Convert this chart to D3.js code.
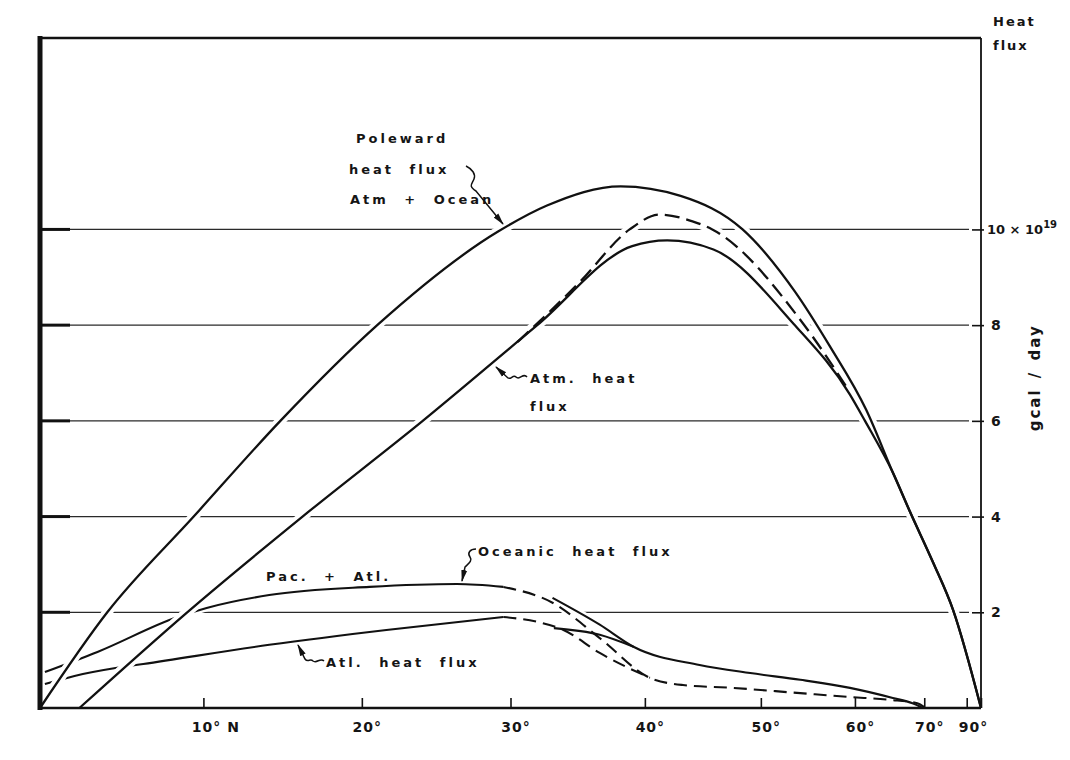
<!DOCTYPE html>
<html>
<head>
<meta charset="utf-8">
<script src="https://cdn.jsdelivr.net/npm/d3@7"></script>
<style>
  body { margin: 0; background: #fff; }
  text { font-family: "DejaVu Sans", sans-serif; font-weight: bold; fill: #151515; }
</style>
</head>
<body>
<svg id="chart" width="1070" height="760"></svg>
<script>
// latitude (deg N) and poleward heat flux (10^19 gcal/day)
const totalLat = [0, 4.1, 9.4, 14.8, 21, 29.1, 32.6, 38.1, 42.9, 48.3, 53.35, 57.1, 61.4, 65.0, 67.6, 71.6, 76.0, 90];
const totalFlux = [0, 2.0, 4.0, 6.0, 8.0, 9.95, 10.5, 10.9, 10.7, 10.0, 8.7, 7.55, 6.23, 4.92, 4.1, 3.05, 2.05, 0];

const atmLat = [2.4, 9.0, 16.2, 24.0, 31.9, 39.0, 41.8, 45.7, 53.2, 59.4, 61.25, 65.0, 67.6, 71.6, 76.0, 90];
const atmFlux = [0, 2.0, 4.0, 6.0, 8.0, 9.65, 9.77, 9.58, 8.03, 6.55, 6.0, 4.92, 4.1, 3.05, 2.05, 0];

const atmAltLat = [30.5, 35.0, 38.8, 41.2, 43.9, 45.6, 54.2, 59.2];
const atmAltFlux = [7.65, 8.9, 10.0, 10.31, 10.17, 10.0, 8.03, 6.65];

const pacAtlLat = [0.3, 3.5, 8.4, 10.2, 14.1, 20.5, 26.3, 29.5];
const pacAtlFlux = [0.75, 1.17, 1.9, 2.09, 2.36, 2.53, 2.59, 2.53];

const pacAtlDashLat = [29.5, 33.0, 36.5, 40.4, 43.1, 47.4, 53.9, 59.4, 64.6, 68.8, 70];
const pacAtlDashFlux = [2.53, 2.2, 1.46, 0.63, 0.48, 0.42, 0.31, 0.23, 0.17, 0.1, 0.02];

const atlLat = [0.3, 2.1, 4.7, 6.3, 14.1, 21.6, 29.5];
const atlFlux = [0.5, 0.67, 0.84, 0.92, 1.32, 1.63, 1.9];

const atlDashLat = [29.5, 31.9, 33.8, 36.5, 40.4];
const atlDashFlux = [1.9, 1.8, 1.63, 1.15, 0.63];

const pacAtlRevLat = [33.0, 36.5, 39.1, 44.5, 49.0, 53.9, 59.4, 65.0, 68.0, 69.8];
const pacAtlRevFlux = [2.3, 1.74, 1.28, 0.9, 0.73, 0.59, 0.42, 0.21, 0.1, 0.0];

const atlRevLat = [33.1, 36.5, 39.1];
const atlRevFlux = [1.67, 1.53, 1.28];

const xTickValues = [10, 20, 30, 40, 50, 60, 70, 80, 90];
const xTickLabels = ["10° N", "20°", "30°", "40°", "50°", "60°", "70°", "", "90°"];
const yTickValues = [2, 4, 6, 8, 10];
const gridValues = [2, 4, 6, 8, 10];

const svg = d3.select("#chart");
const pLeft = 40, pRight = 981, pTop = 38, pBottom = 708;

// area-weighted latitude axis: position goes with sin(lat)
const sx = d3.scaleLinear().domain([0, 1]).range([pLeft, pRight]);
const x = lat => sx(Math.sin(lat * Math.PI / 180));
const y = d3.scaleLinear().domain([0, 14]).range([pBottom, pTop]);

const zip = (a, b) => a.map((d, i) => [d, b[i]]);
const line = d3.line().x(d => x(d[0])).y(d => y(d[1])).curve(d3.curveMonotoneX);

svg.append("defs").append("marker")
  .attr("id", "head")
  .attr("viewBox", "0 0 12 8")
  .attr("refX", 11).attr("refY", 4)
  .attr("markerWidth", 12).attr("markerHeight", 8)
  .attr("markerUnits", "userSpaceOnUse")
  .attr("orient", "auto")
  .append("path").attr("d", "M0,1 L12,4 L0,7 z").attr("fill", "#111");

// gridlines
svg.append("g").selectAll("line").data(gridValues).join("line")
  .attr("x1", pLeft).attr("x2", pRight - 12)
  .attr("y1", d => y(d)).attr("y2", d => y(d))
  .attr("stroke", "#2a2a2a").attr("stroke-width", 1.3);
svg.append("g").selectAll("line").data(gridValues).join("line")
  .attr("x1", pLeft).attr("x2", pLeft + 30)
  .attr("y1", d => y(d)).attr("y2", d => y(d))
  .attr("stroke", "#111").attr("stroke-width", 3);

// ocean curves (halo first so the gridlines break at crossings)
const ocean = [
  { d: zip(pacAtlLat, pacAtlFlux), dash: null },
  { d: zip(atlLat, atlFlux), dash: null },
  { d: zip(pacAtlDashLat, pacAtlDashFlux), dash: "13,7" },
  { d: zip(atlDashLat, atlDashFlux), dash: "13,7" },
  { d: zip(pacAtlRevLat, pacAtlRevFlux), dash: null },
  { d: zip(atlRevLat, atlRevFlux), dash: null }
];
const og = svg.append("g");
og.selectAll(".halo").data(ocean).join("path")
  .attr("class", "halo")
  .attr("d", s => line(s.d))
  .attr("fill", "none").attr("stroke", "#fff").attr("stroke-width", 7);
og.selectAll(".ln").data(ocean).join("path")
  .attr("class", "ln")
  .attr("d", s => line(s.d))
  .attr("fill", "none").attr("stroke", "#111").attr("stroke-width", 2.1)
  .attr("stroke-dasharray", s => s.dash);

// atmosphere / total curves
const big = [
  { d: zip(totalLat, totalFlux), dash: null },
  { d: zip(atmLat, atmFlux), dash: null },
  { d: zip(atmAltLat, atmAltFlux), dash: "15,7" }
];
const bg = svg.append("g");
bg.selectAll(".halo").data(big).join("path")
  .attr("class", "halo")
  .attr("d", s => line(s.d))
  .attr("fill", "none").attr("stroke", "#fff").attr("stroke-width", 10);
bg.selectAll(".ln").data(big).join("path")
  .attr("class", "ln")
  .attr("d", s => line(s.d))
  .attr("fill", "none").attr("stroke", "#111").attr("stroke-width", 2.3)
  .attr("stroke-dasharray", s => s.dash);

// frame
const frame = svg.append("g").attr("stroke", "#111").attr("fill", "none");
frame.append("line").attr("x1", pLeft).attr("x2", pLeft).attr("y1", pTop - 2).attr("y2", pBottom + 2).attr("stroke-width", 5);
frame.append("line").attr("x1", pLeft).attr("x2", pRight).attr("y1", pTop).attr("y2", pTop).attr("stroke-width", 2.5);
frame.append("line").attr("x1", pRight).attr("x2", pRight).attr("y1", pTop).attr("y2", pBottom).attr("stroke-width", 1.8);
frame.append("line").attr("x1", pLeft).attr("x2", pRight).attr("y1", pBottom).attr("y2", pBottom).attr("stroke-width", 2.5);

// bottom axis
const xAxis = svg.append("g")
  .attr("transform", `translate(0,${pBottom})`)
  .call(d3.axisBottom(sx)
    .tickValues(xTickValues.map(d => Math.sin(d * Math.PI / 180)))
    .tickSizeInner(-10).tickSizeOuter(0).tickPadding(14)
    .tickFormat((d, i) => xTickLabels[i]));
xAxis.select(".domain").remove();
xAxis.selectAll("line").attr("stroke", "#111").attr("stroke-width", 1.6);
xAxis.selectAll("text")
  .attr("font-size", 14).attr("font-family", null)
  .attr("dx", (d, i) => xTickValues[i] === 90 ? -8 : xTickValues[i] === 10 ? 12 : 5)
  .style("letter-spacing", "1px");

// right axis
const yAxis = svg.append("g")
  .attr("transform", `translate(${pRight},0)`)
  .call(d3.axisRight(y).tickValues(yTickValues).tickSizeInner(0).tickSizeOuter(0).tickPadding(10));
yAxis.select(".domain").remove();
yAxis.selectAll(".tick").append("line")
  .attr("x1", -9).attr("x2", 3).attr("stroke", "#111").attr("stroke-width", 1.6);
yAxis.selectAll("text")
  .attr("font-size", 14).attr("font-family", null);
yAxis.selectAll(".tick").filter(d => d === 10).select("text")
  .attr("x", 6).attr("font-size", 13)
  .text(null)
  .call(t => {
    t.append("tspan").text("10 × 10");
    t.append("tspan").attr("dy", "-0.6em").attr("font-size", 10).text("19");
  });

// axis titles
svg.append("text").attr("x", 993).attr("y", 26).attr("font-size", 13).style("letter-spacing", "2px").text("Heat");
svg.append("text").attr("x", 993).attr("y", 50).attr("font-size", 13).style("letter-spacing", "2px").text("flux");
svg.append("text")
  .attr("transform", `translate(1040,${y(6.9)}) rotate(-90)`)
  .attr("text-anchor", "middle").attr("font-size", 15)
  .style("letter-spacing", "2px").style("word-spacing", "3px")
  .text("gcal / day");

// annotations
const note = (tx, ty, txt) => svg.append("text")
  .attr("x", tx).attr("y", ty).attr("font-size", 13)
  .style("letter-spacing", "3px").style("word-spacing", "8px").text(txt);
note(356, 143, "Poleward");
note(349, 174, "heat flux");
note(350, 204, "Atm + Ocean");
note(530, 383, "Atm. heat");
note(530, 411, "flux");
note(478, 556, "Oceanic heat flux");
note(266, 581, "Pac. + Atl.");
note(326, 667, "Atl. heat flux");

const arrows = [
  "M466,166 c6,3 10,8 8,13 c-2,5 -6,7 2,12 L503,224",
  "M527,377 c-4,-5 -7,4 -11,0 c-3,-3 -5,3 -8,1 L496,367",
  "M476,549 c-6,0 -9,4 -6,8 c3,4 -2,7 -5,10 L462,581",
  "M324,661 c-4,-4 -7,3 -11,0 c-3,-3 -5,2 -8,-2 L298,645"
];
svg.append("g").selectAll("path").data(arrows).join("path")
  .attr("d", d => d)
  .attr("fill", "none").attr("stroke", "#111").attr("stroke-width", 1.5)
  .attr("marker-end", "url(#head)");
</script>
</body>
</html>
